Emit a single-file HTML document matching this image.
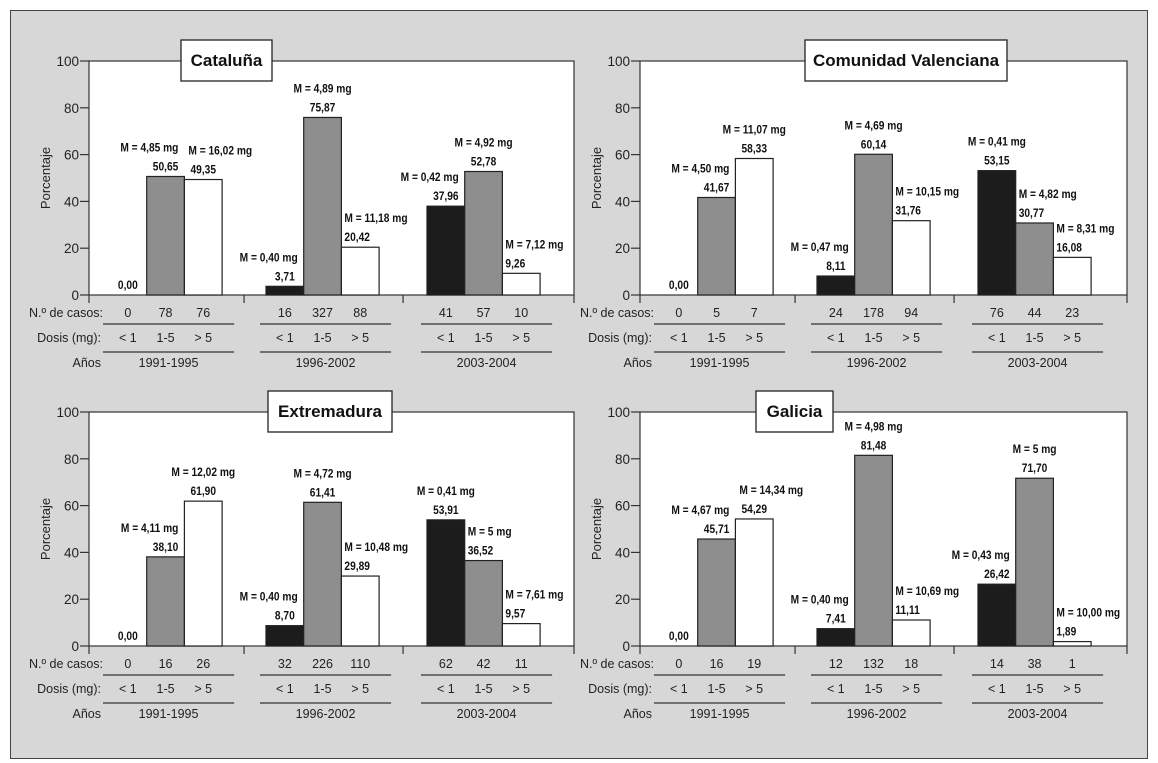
<!DOCTYPE html>
<html><head><meta charset="utf-8">
<style>
html,body{margin:0;padding:0;background:#fff;}
svg{display:block;}
text{font-family:"Liberation Sans",sans-serif;}
.lbl{font-weight:bold;font-size:12px;fill:#111;}
.row{font-size:12.5px;fill:#222;}
.tick{font-size:13.5px;fill:#222;}
.ttl{font-size:17px;font-weight:bold;fill:#111;}
</style></head>
<body>
<svg id="chart" width="1158" height="763" viewBox="0 0 1158 763" xmlns="http://www.w3.org/2000/svg">
<rect x="0" y="0" width="1158" height="763" fill="#ffffff"/>
<rect x="10.5" y="10.5" width="1137" height="748" fill="#d7d7d7" stroke="#444" stroke-width="1"/>
</svg>
<script>
const regions = ["Cataluña", "Comunidad Valenciana", "Extremadura", "Galicia"];
const periods = ["1991-1995", "1996-2002", "2003-2004"];
const doses = ["< 1", "1-5", "> 5"];
const yTicks = [0, 20, 40, 60, 80, 100];
const valCataluna = [0, 50.65, 49.35, 3.71, 75.87, 20.42, 37.96, 52.78, 9.26];
const valValenciana = [0, 41.67, 58.33, 8.11, 60.14, 31.76, 53.15, 30.77, 16.08];
const valExtremadura = [0, 38.10, 61.90, 8.70, 61.41, 29.89, 53.91, 36.52, 9.57];
const valGalicia = [0, 45.71, 54.29, 7.41, 81.48, 11.11, 26.42, 71.70, 1.89];
const mCataluna = [null, "4,85", "16,02", "0,40", "4,89", "11,18", "0,42", "4,92", "7,12"];
const mValenciana = [null, "4,50", "11,07", "0,47", "4,69", "10,15", "0,41", "4,82", "8,31"];
const mExtremadura = [null, "4,11", "12,02", "0,40", "4,72", "10,48", "0,41", "5", "7,61"];
const mGalicia = [null, "4,67", "14,34", "0,40", "4,98", "10,69", "0,43", "5", "10,00"];
const casosCataluna = [0, 78, 76, 16, 327, 88, 41, 57, 10];
const casosValenciana = [0, 5, 7, 24, 178, 94, 76, 44, 23];
const casosExtremadura = [0, 16, 26, 32, 226, 110, 62, 42, 11];
const casosGalicia = [0, 16, 19, 12, 132, 18, 14, 38, 1];

const allVals = [valCataluna, valValenciana, valExtremadura, valGalicia];
const allM = [mCataluna, mValenciana, mExtremadura, mGalicia];
const allCasos = [casosCataluna, casosValenciana, casosExtremadura, casosGalicia];

const NS = "http://www.w3.org/2000/svg";
const svg = document.getElementById("chart");
function mk(tag, attrs, parent, txt) {
  const e = document.createElementNS(NS, tag);
  for (const k in attrs) e.setAttribute(k, attrs[k]);
  if (txt !== undefined) e.textContent = txt;
  (parent || svg).appendChild(e);
  return e;
}
function label(parent, x, y, anchor, txt) {
  return mk("text", {x: 0, y: 0, "text-anchor": anchor, class: "lbl", transform: `translate(${x},${y}) scale(0.85,1)`}, parent, txt);
}
const fills = ["#1c1c1c", "#8e8e8e", "#ffffff"];
const layouts = [
  {ox: 0, oy: 0, tx: 181, tw: 91},
  {ox: 551, oy: 0, tx: 805, tw: 202},
  {ox: 0, oy: 351, tx: 268, tw: 124},
  {ox: 551, oy: 351, tx: 756, tw: 77}
];
function fmt(v) { return v.toFixed(2).replace(".", ","); }

regions.forEach((name, p) => {
  const L = layouts[p];
  const g = mk("g", {});
  
  
  const x0 = 89 + L.ox, x1 = 574 + L.ox + (L.ox ? 2 : 0);
  const yTop = 61 + L.oy, yBot = 295 + L.oy;
  const yScale = v => yBot - (v / 100) * (yBot - yTop);
  const barX = i => x0 + 20 + Math.floor(i / 3) * 157 + (i % 3) * 37.7 + (Math.floor(i / 3) === 2 ? 4 : 0);
  const bw = 37.7;
  const plot = mk("rect", {x: x0, y: yTop, width: x1 - x0, height: yBot - yTop, fill: "#fff", stroke: "#333", "stroke-width": 1.2}, g);
  
  
  yTicks.forEach(t => {
    const y = yScale(t);
    const tl = mk("line", {x1: x0 - 9, x2: x0, y1: y, y2: y, stroke: "#333", "stroke-width": 1.2}, g);
    
    
    const tt = mk("text", {x: x0 - 10, y: y + 5, "text-anchor": "end", class: "tick"}, g, String(t));
    
    
  });
  mk("line", {x1: x0, x2: x0, y1: yBot, y2: yBot + 8, stroke: "#333", "stroke-width": 1.2}, g);
  mk("line", {x1: x1, x2: x1, y1: yBot, y2: yBot + 8, stroke: "#333", "stroke-width": 1.2}, g);
  [1, 2].forEach(k => {
    const sx = (barX(k * 3 - 1) + bw + barX(k * 3)) / 2;
    const s = mk("line", {x1: sx, x2: sx, y1: yBot, y2: yBot + 8, stroke: "#333", "stroke-width": 1.2}, g);
    
    
  });
  const yt = mk("text", {x: 0, y: 0, class: "row", "text-anchor": "middle", transform: `translate(${50 + L.ox},${178 + L.oy}) rotate(-90)`, style: "font-size:13px"}, g, "Porcentaje");
  
  
  const vals = allVals[p], ms = allM[p], cs = allCasos[p];
  vals.forEach((v, i) => {
    const bx = barX(i), y = yScale(v);
    if (v > 0) {
      const r = mk("rect", {x: bx, y: y, width: bw, height: yBot - y, fill: fills[i % 3], stroke: "#222", "stroke-width": 1.2}, g);
      
      
    }
    const k = i % 3;
    const lv = (k > 0 && vals[i - 1] > 0) ? vals[i - 1] : null;
    const rv = (k < 2) ? vals[i + 1] : null;
    let mA = "middle", mX = bx + bw / 2, vA = "middle", vX = bx + bw / 2;
    let started = false;
    if (lv !== null && lv > v + 3) {
      mA = "start"; mX = bx + 3; vA = "start"; vX = bx + 3; started = true;
    } else if (lv !== null && Math.abs(lv - v) <= 12) {
      mA = "start"; mX = bx + 4; started = true;
    }
    if (!started && v > 0 && rv !== null && rv >= v - 12) {
      mA = "end"; mX = bx + bw - 6;
    }
    const vt = label(g, vX, y - 6, vA, fmt(v));
    
    
    if (ms[i] !== null) {
      const mt = label(g, mX, y - 25, mA, "M = " + ms[i] + " mg");
      
      
    }
    const ct = mk("text", {x: bx + bw / 2, y: yBot + 22, "text-anchor": "middle", class: "row"}, g, String(cs[i]));
    
    
    const dt = mk("text", {x: bx + bw / 2, y: yBot + 47, "text-anchor": "middle", class: "row"}, g, doses[k]);
    
    
  });
  periods.forEach((per, k) => {
    const gs = barX(k * 3), ge = barX(k * 3 + 2) + bw;
    [yBot + 29, yBot + 57].forEach(ly => {
      mk("line", {x1: gs - 6, x2: ge + 12, y1: ly, y2: ly, stroke: "#333", "stroke-width": 1.2}, g);
    });
    const pt = mk("text", {x: (gs + ge) / 2 + 3, y: yBot + 72, "text-anchor": "middle", class: "row"}, g, per);
    
    
  });
  const r1 = mk("text", {x: 103 + L.ox, y: yBot + 22, "text-anchor": "end", class: "row"}, g, "N.º de casos:");
  
  
  const r2 = mk("text", {x: 101 + L.ox, y: yBot + 47, "text-anchor": "end", class: "row"}, g, "Dosis (mg):");
  
  
  const r3 = mk("text", {x: 101 + L.ox, y: yBot + 72, "text-anchor": "end", class: "row"}, g, "Años");
  
  
  const tb = mk("rect", {x: L.tx, y: 40 + L.oy, width: L.tw, height: 41, fill: "#fff", stroke: "#222", "stroke-width": 1.3}, g);
  
  
  const tt = mk("text", {x: L.tx + L.tw / 2, y: 66 + L.oy, "text-anchor": "middle", class: "ttl"}, g, name);
  
  
});
</script>
</body></html>
